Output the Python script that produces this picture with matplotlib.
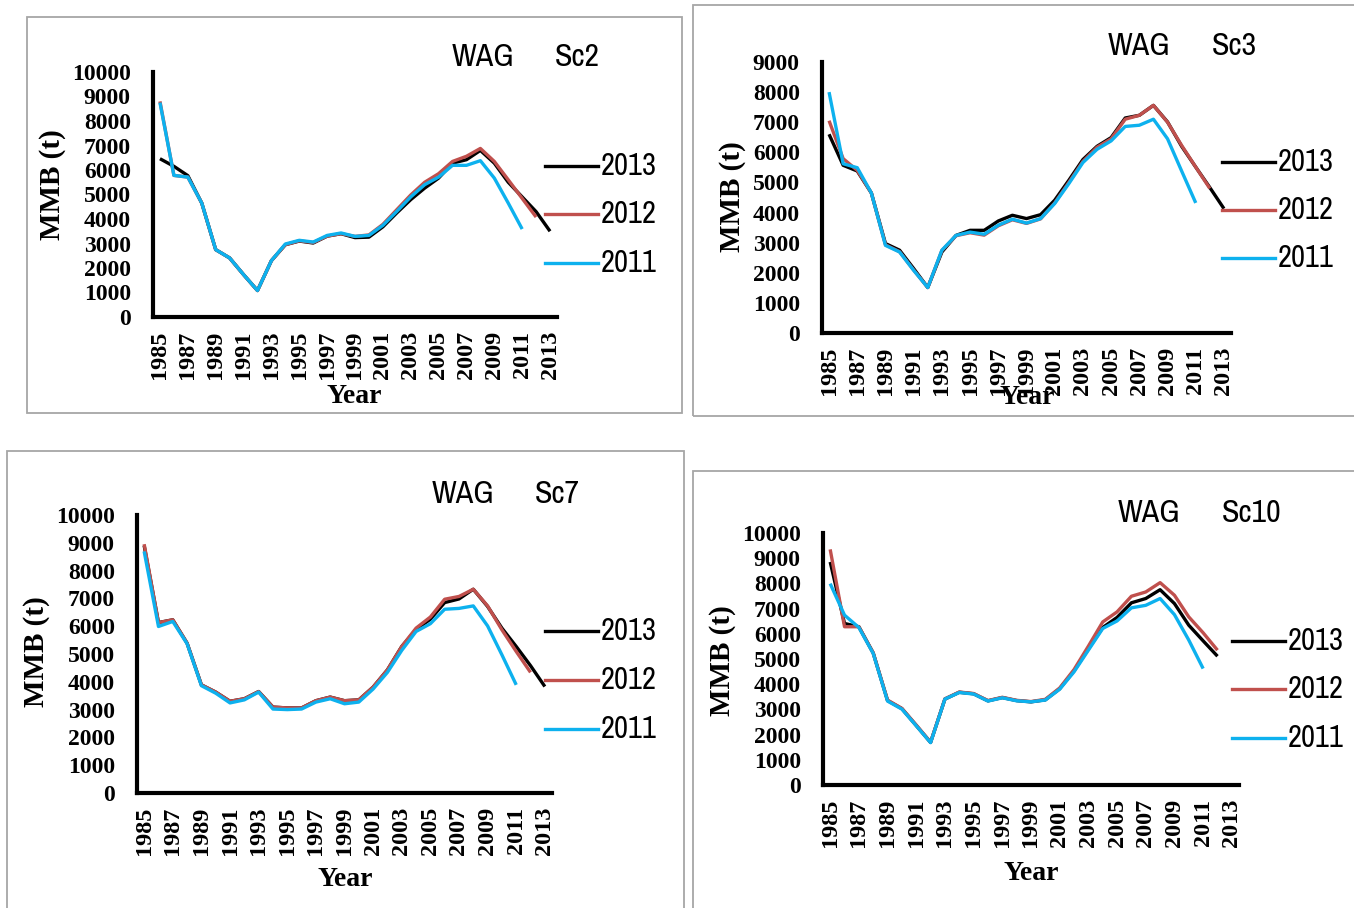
import matplotlib
matplotlib.use("Agg")
import matplotlib.pyplot as plt
from matplotlib import font_manager
from matplotlib.lines import Line2D
from matplotlib.patches import Rectangle

# figure size in pixels
W, H = 1354, 908

years = list(range(1985, 2014))
tick_years = list(range(1985, 2014, 2))
series_names = ["2013", "2012", "2011"]
series_colors = ["#000000", "#C0504D", "#0DB1EE"]

# Sc2
sc2_2013 = [6460, 6150, 5770, 4650, 2750, 2410, 1730, 1080, 2300, 2950, 3100, 3020, 3300, 3400, 3240,
            3260, 3680, 4250, 4790, 5260, 5670, 6280, 6420, 6800, 6280, 5500, 4900, 4300, 3500]
sc2_2012 = [8800, 5780, 5710, 4650, 2750, 2410, 1730, 1080, 2300, 2950, 3110, 3040, 3300, 3400, 3290,
            3350, 3780, 4380, 4980, 5500, 5850, 6350, 6560, 6880, 6350, 5600, 4840, 4080]
sc2_2011 = [8750, 5780, 5710, 4650, 2750, 2410, 1730, 1080, 2300, 2980, 3130, 3060, 3330, 3430, 3290,
            3330, 3740, 4310, 4900, 5400, 5710, 6190, 6190, 6380, 5670, 4650, 3590]

# Sc3
sc3_2013 = [6600, 5570, 5380, 4650, 2970, 2750, 2140, 1510, 2690, 3240, 3410, 3410, 3720, 3910, 3800,
            3930, 4410, 5070, 5760, 6200, 6490, 7140, 7230, 7560, 7010, 6200, 5510, 4830, 4130]
sc3_2012 = [7050, 5790, 5400, 4650, 2930, 2700, 2090, 1510, 2740, 3230, 3330, 3250, 3560, 3760, 3640,
            3790, 4320, 5000, 5700, 6170, 6450, 7100, 7230, 7560, 7000, 6230, 5510, 4800]
sc3_2011 = [8000, 5620, 5490, 4650, 2910, 2690, 2080, 1510, 2750, 3240, 3350, 3280, 3580, 3780, 3650,
            3800, 4300, 4960, 5660, 6100, 6380, 6860, 6900, 7100, 6450, 5380, 4320]

# Sc7
sc7_2013 = [8900, 6130, 6230, 5390, 3890, 3630, 3300, 3390, 3650, 3090, 3060, 3060, 3320, 3450, 3320,
            3350, 3810, 4430, 5270, 5880, 6250, 6850, 6980, 7330, 6710, 5930, 5270, 4580, 3830]
sc7_2012 = [8950, 6130, 6230, 5390, 3890, 3630, 3300, 3390, 3650, 3090, 3060, 3060, 3320, 3450, 3320,
            3350, 3810, 4430, 5270, 5930, 6330, 6970, 7070, 7330, 6730, 5870, 5090, 4340]
sc7_2011 = [8690, 5990, 6170, 5370, 3860, 3590, 3240, 3350, 3630, 3020, 3000, 3020, 3270, 3390, 3210,
            3270, 3740, 4340, 5130, 5810, 6090, 6610, 6640, 6730, 6010, 4970, 3890]

# Sc10
sc10_2013 = [8850, 6410, 6280, 5240, 3350, 3030, 2360, 1690, 3410, 3680, 3620, 3340, 3470, 3350, 3300,
             3380, 3820, 4530, 5400, 6250, 6650, 7230, 7400, 7750, 7200, 6340, 5720, 5110]
sc10_2012 = [9350, 6280, 6280, 5240, 3370, 3040, 2380, 1700, 3420, 3690, 3630, 3350, 3480, 3360, 3310,
             3400, 3850, 4580, 5510, 6470, 6870, 7490, 7660, 8030, 7530, 6670, 6040, 5350]
sc10_2011 = [7990, 6740, 6250, 5220, 3330, 3010, 2350, 1680, 3410, 3670, 3610, 3330, 3460, 3340, 3300,
             3370, 3800, 4490, 5350, 6210, 6510, 7030, 7130, 7400, 6760, 5750, 4620]

# pick a narrow sans for the titles / legend if one is installed
fonts = font_manager.fontManager.ttflist
narrow_names = sorted({f.name for f in fonts if "Narrow" in f.name or "Condensed" in f.name})
dejavu_cond = any(f.name == "DejaVu Sans" and f.stretch == "condensed" for f in fonts)
if narrow_names:
    label_font = dict(family=narrow_names[0])
    title_size, leg_size = 23, 22
elif dejavu_cond:
    label_font = dict(family="DejaVu Sans", fontstretch="condensed")
    title_size, leg_size = 19, 18
else:
    label_font = dict(family="Roboto")
    title_size, leg_size = 19.5, 18
serif = "Liberation Serif"

# layout in pixels: frame (x0, y0, x1, y1), axes (left, top, right, bottom),
# title y + x of WAG centre + x of scenario left, legend line x0 + row ys, ylabel (x, y), xlabel (x, y)
panels = [
    dict(name="Sc2", data=[sc2_2013, sc2_2012, sc2_2011], ymax=10000,
         frame=(27, 17, 682, 413), ax=(153, 72, 557, 317),
         title=(57, 483, 555), leg=(545, [166, 214, 263]),
         ylab=(52, 185), xlab=(354, 396)),
    dict(name="Sc3", data=[sc3_2013, sc3_2012, sc3_2011], ymax=9000,
         frame=(693, 5, 1370, 416), ax=(822, 62, 1231, 333),
         title=(46, 1139, 1212), leg=(1222, [162, 210, 258]),
         ylab=(733, 197), xlab=(1027, 398)),
    dict(name="Sc7", data=[sc7_2013, sc7_2012, sc7_2011], ymax=10000,
         frame=(7, 451, 684, 930), ax=(137, 515, 552, 793),
         title=(494, 463, 535), leg=(545, [631, 680, 729]),
         ylab=(36, 652), xlab=(345, 880)),
    dict(name="Sc10", data=[sc10_2013, sc10_2012, sc10_2011], ymax=10000,
         frame=(693, 471, 1370, 930), ax=(823, 533, 1239, 785),
         title=(513, 1149, 1222), leg=(1232, [641, 689, 738]),
         ylab=(722, 661), xlab=(1031, 873)),
]

fig = plt.figure(figsize=(W / 100, H / 100), dpi=100)


def fx(x):
    return x / W


def fy(y):
    return 1 - y / H


for p in panels:
    x0, y0, x1, y1 = p["frame"]
    fig.add_artist(Rectangle((fx(x0), fy(y1)), (x1 - x0) / W, (y1 - y0) / H,
                             transform=fig.transFigure, fill=False,
                             edgecolor="#a6a6a6", linewidth=1.3))

    l, t, r, b = p["ax"]
    ax = fig.add_axes([fx(l), fy(b), (r - l) / W, (b - t) / H])
    ax.patch.set_alpha(0)
    for s, c in zip(p["data"], series_colors):
        ax.plot(years[:len(s)], s, color=c, linewidth=2.4, solid_capstyle="butt")

    ax.set_xlim(1984.5, 2013.5)
    ax.set_ylim(0, p["ymax"])
    ax.set_xticks(tick_years)
    ax.set_yticks(range(0, p["ymax"] + 1, 1000))
    for side in ["top", "right"]:
        ax.spines[side].set_visible(False)
    for side in ["left", "bottom"]:
        ax.spines[side].set_linewidth(3.0)
        ax.spines[side].set_color("black")
        ax.spines[side].set_capstyle("projecting")
    ax.tick_params(axis="y", length=0, pad=16)
    ax.tick_params(axis="x", length=0, pad=10)
    for lab in ax.get_yticklabels():
        lab.set_fontfamily(serif)
        lab.set_fontweight("bold")
        lab.set_fontsize(17)
    for lab in ax.get_xticklabels():
        lab.set_fontfamily(serif)
        lab.set_fontweight("bold")
        lab.set_fontsize(17.5)
        lab.set_rotation(90)

    # title
    ty, wag_x, sc_x = p["title"]
    fig.text(fx(wag_x), fy(ty), "WAG", ha="center", va="center",
             fontsize=title_size, **label_font)
    fig.text(fx(sc_x), fy(ty), p["name"], ha="left", va="center",
             fontsize=title_size, **label_font)

    # legend
    lx, lys = p["leg"]
    for name, c, ly in zip(series_names, series_colors, lys):
        fig.add_artist(Line2D([fx(lx), fx(lx + 53)], [fy(ly), fy(ly)],
                              transform=fig.transFigure, color=c, linewidth=2.4))
        fig.text(fx(lx + 56), fy(ly), name, ha="left", va="center",
                 fontsize=leg_size, **label_font)

    # axis titles
    fig.text(fx(p["ylab"][0]), fy(p["ylab"][1]), "MMB (t)", rotation=90,
             ha="center", va="center", family=serif, fontweight="bold", fontsize=21)
    fig.text(fx(p["xlab"][0]), fy(p["xlab"][1]), "Year",
             ha="center", va="center", family=serif, fontweight="bold", fontsize=20)

fig.savefig("out.png", dpi=100, facecolor="white")
